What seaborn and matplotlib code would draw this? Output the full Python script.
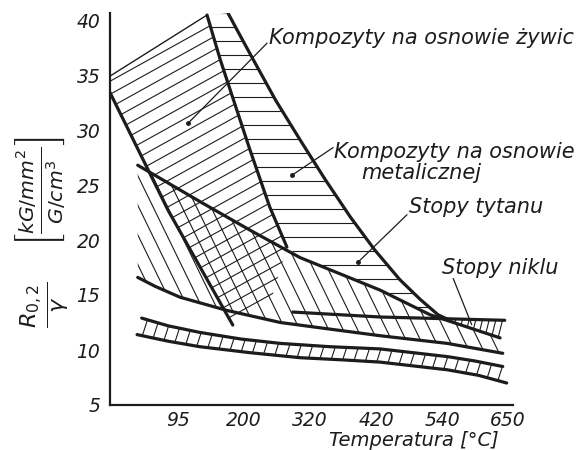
import numpy as np
import matplotlib
matplotlib.use("Agg")
import matplotlib.pyplot as plt
import seaborn as sns

# ------------------------
# data (x = tick index on the temperature axis: 0 = origin, 1 = 95 ... 6 = 650)
# ------------------------
temp_pos = [1, 2, 3, 4, 5, 6]
temp_labels = ["95", "200", "320", "420", "540", "650"]
r_ticks = [5, 10, 15, 20, 25, 30, 35, 40]

resin_top_x = [-0.03, 1.44]
resin_top_y = [34.9, 40.45]
resin_left_x = [-0.03, 0.85, 1.83]
resin_left_y = [33.4, 22.7, 12.27]
resin_right_x = [1.44, 1.64, 2.09, 2.39, 2.65]
resin_right_y = [40.45, 36.4, 28.2, 23.0, 19.36]
resin_edge_x = [2.65, 2.39, 1.94, 1.83]
resin_edge_y = [19.36, 14.1, 12.5, 12.27]

metal_right_x = [1.76, 1.94, 2.14, 2.48, 2.85, 3.23, 3.61, 3.98, 4.36, 4.67, 4.94, 5.12]
metal_right_y = [40.6, 38.6, 36.4, 32.7, 29.1, 25.5, 22.1, 19.1, 16.4, 14.6, 13.2, 12.7]

ti_upper_x = [0.39, 1.33, 2.09, 2.85, 4.06, 4.82, 5.88]
ti_upper_y = [26.8, 23.5, 20.9, 18.4, 15.45, 13.2, 11.1]
ti_lower_x = [0.39, 0.65, 1.03, 1.74, 2.55, 3.3, 4.06, 5.08, 5.92]
ti_lower_y = [16.6, 15.8, 14.8, 13.6, 12.5, 11.9, 11.3, 10.6, 9.7]

ni_x = [2.74, 4.06, 5.95]
ni_y = [13.45, 13.0, 12.7]

band_upper_x = [0.45, 0.85, 1.33, 1.95, 2.55, 3.3, 4.06, 5.08, 5.5, 5.92]
band_upper_y = [12.9, 12.2, 11.6, 11.0, 10.6, 10.3, 10.1, 9.4, 9.0, 8.5]
band_lower_x = [0.38, 0.85, 1.33, 2.1, 2.85, 3.5, 4.06, 5.08, 5.55, 5.98]
band_lower_y = [11.4, 10.8, 10.3, 9.75, 9.3, 9.1, 8.9, 8.2, 7.7, 7.0]

ink = "#1c1c1c"

sns.set_theme(style="white")
plt.rcParams["font.family"] = ["DejaVu Sans"]
plt.rcParams["mathtext.fontset"] = "dejavusans"

W, H = 588, 450
fig = plt.figure(figsize=(W / 100, H / 100), dpi=100)
ax = fig.add_axes([110 / W, 45 / H, 403.3 / W, 391.6 / H])
ax.set_xlim(-0.03, 6.08)
ax.set_ylim(5, 40.6)
ax.set_autoscale_on(False)


def seg(xs, ys, a, b):
    # part of a curve between x=a and x=b (endpoints interpolated)
    xs, ys = np.asarray(xs), np.asarray(ys)
    inner = (xs > a) & (xs < b)
    px = np.r_[a, xs[inner], b]
    py = np.r_[np.interp(a, xs, ys), ys[inner], np.interp(b, xs, ys)]
    return px, py


def hatch(xs, ys, angle, gap, lw=0.8):
    poly = ax.fill(xs, ys, facecolor="none", edgecolor="none")[0]
    pts = ax.transData.transform(np.column_stack([xs, ys]))
    lo, hi = pts.min(0), pts.max(0)
    c = (lo + hi) / 2
    r = np.hypot(*(hi - lo)) / 2 + gap
    t = np.deg2rad(angle)
    d = np.array([np.cos(t), np.sin(t)])
    n = np.array([-np.sin(t), np.cos(t)])
    inv = ax.transData.inverted()
    for k in np.arange(-r, r, gap):
        p = inv.transform([c + n * k - d * r, c + n * k + d * r])
        ln, = ax.plot(p[:, 0], p[:, 1], color=ink, lw=lw)
        ln.set_clip_path(poly)


# regions
resin_px = np.r_[resin_top_x, resin_right_x[1:], resin_edge_x[1:], resin_left_x[::-1][1:]]
resin_py = np.r_[resin_top_y, resin_right_y[1:], resin_edge_y[1:], resin_left_y[::-1][1:]]
hatch(resin_px, resin_py, 29, 11.5)

tx, ty = seg(ti_upper_x, ti_upper_y, 2.65, 5.12)
metal_px = np.r_[resin_right_x, tx[1:], metal_right_x[::-1][1:]]
metal_py = np.r_[resin_right_y, ty[1:], metal_right_y[::-1][1:]]
hatch(metal_px, metal_py, 0, 14)

ti_px = np.r_[ti_upper_x, ti_lower_x[::-1]]
ti_py = np.r_[ti_upper_y, ti_lower_y[::-1]]
hatch(ti_px, ti_py, -64, 13)

nx, ny = seg(ni_x, ni_y, 4.93, 5.95)
ux, uy = seg(ti_upper_x, ti_upper_y, 4.93, 5.88)
hatch(np.r_[nx, ux[::-1]], np.r_[ny, uy[::-1]], 76, 6.5)

band_px = np.r_[band_upper_x, band_lower_x[::-1]]
band_py = np.r_[band_upper_y, band_lower_y[::-1]]
hatch(band_px, band_py, 72, 11)

# boundary curves
sns.lineplot(x=resin_top_x, y=resin_top_y, sort=False, estimator=None, color=ink, lw=1.0, ax=ax)
for cx, cy in [(resin_left_x, resin_left_y), (resin_right_x, resin_right_y),
               (metal_right_x, metal_right_y), (ti_upper_x, ti_upper_y),
               (ti_lower_x, ti_lower_y), (ni_x, ni_y),
               (band_upper_x, band_upper_y), (band_lower_x, band_lower_y)]:
    sns.lineplot(x=cx, y=cy, sort=False, estimator=None, color=ink, lw=2.3, ax=ax)

# labels with leader lines
lab = dict(fontsize=15, style="italic", color=ink)
ax.text(2.38, 38.4, "Kompozyty na osnowie żywic", va="center", **lab)
ax.text(3.36, 28.0, "Kompozyty na osnowie", va="center", **lab)
ax.text(3.77, 26.1, "metalicznej", va="center", **lab)
ax.text(4.5, 23.0, "Stopy tytanu", va="center", **lab)
ax.text(5.0, 17.5, "Stopy niklu", va="center", **lab)
for (x0, y0), (x1, y1), dot in [((2.35, 37.9), (1.15, 30.6), True),
                                ((3.35, 28.4), (2.73, 25.9), True),
                                ((4.47, 22.3), (3.73, 18.0), True),
                                ((5.17, 16.5), (5.45, 12.3), False)]:
    ax.plot([x0, x1], [y0, y1], color=ink, lw=0.9)
    if dot:
        ax.plot(x1, y1, "o", color=ink, ms=2.5)

# axes
sns.despine(ax=ax)
ax.spines["left"].set_bounds(5, 40.6)
for s in ["left", "bottom"]:
    ax.spines[s].set_linewidth(1.6)
    ax.spines[s].set_color(ink)
ax.set_xticks(temp_pos, temp_labels)
ax.set_yticks(r_ticks, [str(v) for v in r_ticks])
ax.tick_params(axis="x", direction="in", length=5, width=1.2, pad=4, colors=ink, labelsize=13.5)
ax.tick_params(axis="y", direction="out", length=5, width=1.2, pad=2, colors=ink, labelsize=13.5)
for t in ax.get_xticklabels() + ax.get_yticklabels():
    t.set_style("italic")

fig.text(414 / W, 1 - 440 / H, "Temperatura [°C]", ha="center", va="center",
         fontsize=14, style="italic", color=ink)
fig.text(41 / W, 1 - 191 / H, r"$\left[\frac{kG/mm^2}{G/cm^3}\right]$",
         rotation=90, ha="center", va="center", fontsize=21, color=ink)
fig.text(44 / W, 1 - 305 / H, r"$\frac{R_{0,2}}{\gamma}$",
         rotation=90, ha="center", va="center", fontsize=23, color=ink)

ax.set_xlim(-0.03, 6.08)
ax.set_ylim(5, 40.6)
fig.savefig("out.png", dpi=100)
